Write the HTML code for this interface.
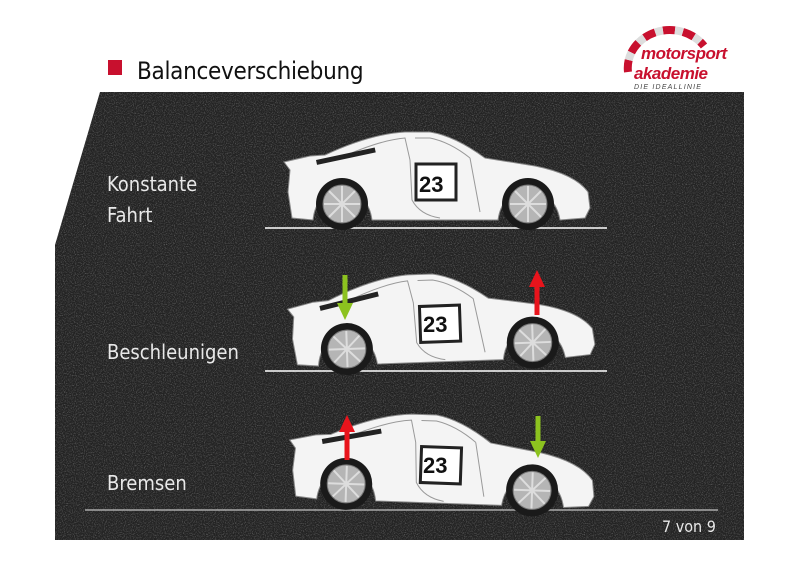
<!DOCTYPE html>
<html><head><meta charset="utf-8"><style>
body{margin:0;width:800px;height:566px;background:#fff;overflow:hidden;position:relative;font-family:"Liberation Sans",sans-serif}
.t{position:absolute;color:#e8e8e8;font-size:20px;font-family:"DejaVu Sans Condensed","Liberation Sans",sans-serif}
</style></head><body>
<svg width="800" height="566" style="position:absolute;left:0;top:0">
<defs>
<filter id="n" x="0" y="0" width="100%" height="100%">
<feTurbulence type="fractalNoise" baseFrequency="0.9" numOctaves="2" seed="3"/>
<feColorMatrix values="0 0 0 0 0.3  0 0 0 0 0.3  0 0 0 0 0.3  0 0 0 1.3 -0.6"/>
<feComposite in2="SourceGraphic" operator="in"/>
</filter>
<g id="car">
<path d="M8,62 L10,40 L4,32 L30,26 L45,25 Q90,4 125,2 L150,2 Q175,6 205,28 L255,36 Q295,44 308,62 L310,78 L305,88 L280,90 Q275,62 248,62 Q222,62 218,90 L92,90 Q88,62 62,62 Q36,62 33,90 L12,88 Z" fill="#f4f4f4" stroke="#888" stroke-width="1"/>
<path d="M60,28 Q100,10 125,8 L130,30 M135,8 L150,8 Q170,12 190,28 M130,30 L132,70 Q140,85 160,88 M190,28 L200,82" fill="none" stroke="#999" stroke-width="1"/>
<rect x="36" y="30" width="60" height="5" fill="#222" transform="rotate(-12 36 30)"/>
<circle cx="62" cy="74" r="26" fill="#1a1a1a"/><circle cx="62" cy="74" r="19" fill="#b5b5b5" stroke="#777"/>
<circle cx="248" cy="74" r="26" fill="#1a1a1a"/><circle cx="248" cy="74" r="19" fill="#b5b5b5" stroke="#777"/>
<g stroke="#ddd" stroke-width="2"><path d="M62,56V92M44,74H80M49,61L75,87M75,61L49,87"/><path d="M248,56V92M230,74H266M235,61L261,87M261,61L235,87"/></g>
<rect x="136" y="34" width="40" height="36" fill="#fff" stroke="#222" stroke-width="3"/>
</g>
</defs>
<path d="M100,92 L744,92 L744,540 L55,540 L55,245 Z" fill="#232323"/>
<path d="M100,92 L744,92 L744,540 L55,540 L55,245 Z" fill="#232323" filter="url(#n)"/>
<rect x="108" y="60" width="14" height="15" fill="#c8102e"/>
<g stroke="#fff" stroke-width="1.5">
<line x1="265" y1="228" x2="607" y2="228"/><line x1="265" y1="371" x2="607" y2="371"/><line x1="85" y1="510" x2="718" y2="510" stroke="#aaa"/>
</g>
<use href="#car" transform="translate(280,130)"/>
<use href="#car" transform="translate(284,272) rotate(-2 150 50)"/>
<use href="#car" transform="translate(285,413) rotate(2 150 50)"/>
<g font-family="Liberation Sans" font-weight="bold" font-size="22" fill="#111">
<text x="419" y="192">23</text><text x="423" y="332">23</text><text x="423" y="473">23</text>
</g>
<path d="M345,275 V305" stroke="#8cc21f" stroke-width="5"/><path d="M337,303 L353,303 L345,320 Z" fill="#8cc21f"/>
<path d="M537,315 V285" stroke="#e8141c" stroke-width="5"/><path d="M529,287 L545,287 L537,270 Z" fill="#e8141c"/>
<path d="M347,460 V430" stroke="#e8141c" stroke-width="5"/><path d="M339,432 L355,432 L347,415 Z" fill="#e8141c"/>
<path d="M538,416 V443" stroke="#8cc21f" stroke-width="5"/><path d="M530,441 L546,441 L538,458 Z" fill="#8cc21f"/>
<path d="M628,72 A42,38 0 0 1 704,46" fill="none" stroke="#c8102e" stroke-width="8" stroke-dasharray="12 8"/>
<path d="M628,72 A42,38 0 0 1 704,46" fill="none" stroke="#ddd" stroke-width="8" stroke-dasharray="0 12 8 0"/>
<text x="641" y="59" font-size="17" font-weight="bold" font-style="italic" fill="#c8102e" letter-spacing="-0.5">motorsport</text>
<text x="634" y="79" font-size="17" font-weight="bold" font-style="italic" fill="#c8102e" letter-spacing="-0.5">akademie</text>
<text x="634" y="89" font-size="7" font-style="italic" fill="#444" letter-spacing="1.2">DIE IDEALLINIE</text>
</svg>
<div style="position:absolute;left:137px;top:57px;font-size:24px;color:#111;font-family:'DejaVu Sans Condensed','Liberation Sans',sans-serif;letter-spacing:-0.3px">Balanceverschiebung</div>
<div class="t" style="left:107px;top:172px">Konstante</div>
<div class="t" style="left:107px;top:203px">Fahrt</div>
<div class="t" style="left:107px;top:340px">Beschleunigen</div>
<div class="t" style="left:107px;top:471px">Bremsen</div>
<div class="t" style="left:662px;top:517px;font-size:16px">7 von 9</div>
</body></html>
